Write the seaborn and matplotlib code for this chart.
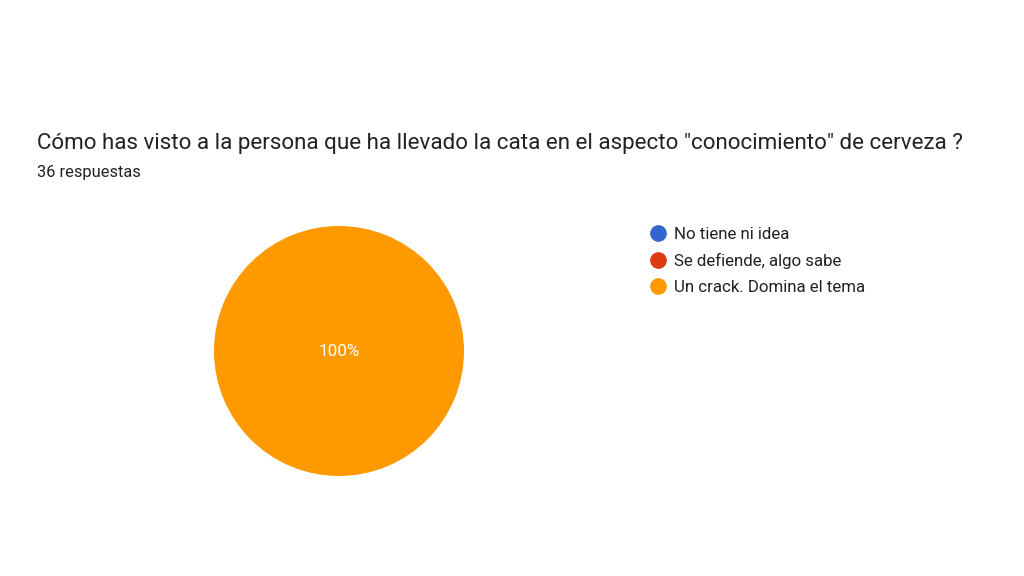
import matplotlib
matplotlib.use("Agg")
import matplotlib.pyplot as plt
import seaborn as sns
from matplotlib.lines import Line2D

# Data
categories = ["No tiene ni idea", "Se defiende, algo sabe", "Un crack. Domina el tema"]
counts = [0, 0, 36]
colors = ["#3366cc", "#dc3912", "#ff9900"]
title = 'Cómo has visto a la persona que ha llevado la cata en el aspecto "conocimiento" de cerveza ?'
subtitle = "36 respuestas"


def pct_label(p):
    return f"{p:.0f}%" if p > 0 else ""


def main():
    sns.set_theme(style="white")
    plt.rcParams["font.family"] = ["Roboto", "DejaVu Sans"]

    fig = plt.figure(figsize=(10.24, 5.76), dpi=100)
    W, H = 1024, 576

    # Pie axes placed in pixel coordinates
    ax = fig.add_axes([214 / W, (H - 476) / H, 250 / W, 250 / H])
    wedges, texts, autotexts = ax.pie(
        counts,
        colors=colors,
        startangle=90,
        counterclock=False,
        autopct=pct_label,
        pctdistance=0.0,
        wedgeprops={"linewidth": 0},
        textprops={"color": "white", "fontsize": 12.3},
    )
    ax.set_xlim(-1, 1)
    ax.set_ylim(-1, 1)
    ax.axis("off")

    # Titles
    fig.text(37 / W, 1 - 144 / H, title, fontsize=16.1, color="#222222", va="center", ha="left")
    fig.text(37 / W, 1 - 173 / H, subtitle, fontsize=11.8, color="#222222", va="center", ha="left")

    # Legend
    handles = [
        Line2D([0], [0], marker="o", linestyle="", markersize=11,
               markerfacecolor=c, markeredgecolor=c)
        for c in colors
    ]
    fig.legend(
        handles, categories,
        loc="upper left",
        bbox_to_anchor=(648 / W, 1 - 227 / H),
        frameon=False,
        fontsize=12.2,
        labelspacing=0.66,
        handletextpad=0.35,
        handlelength=1.2,
        borderpad=0,
        borderaxespad=0,
        labelcolor="#222222",
    )

    fig.savefig("out.png", dpi=100)


if __name__ == "__main__":
    main()
